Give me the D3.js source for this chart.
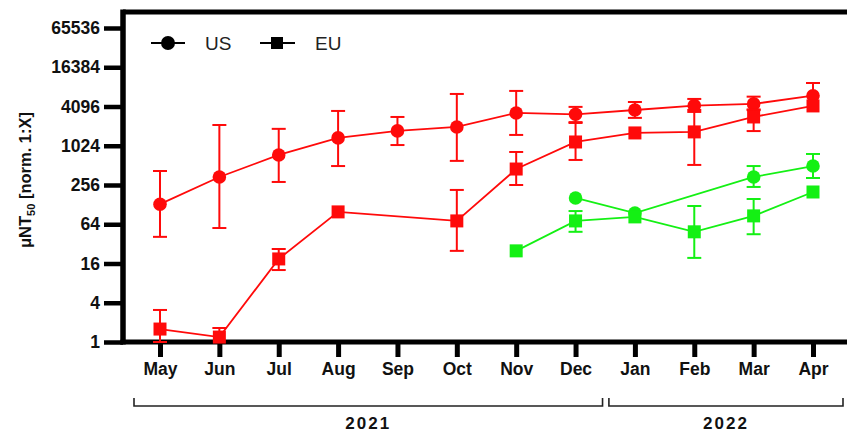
<!DOCTYPE html>
<html><head><meta charset="utf-8">
<script src="https://cdn.jsdelivr.net/npm/d3@7"></script>
<style>body{margin:0;background:#fff}svg{display:block}</style>
</head><body>
<svg id="c" width="847" height="434"></svg>
<script>
const months = ["May","Jun","Jul","Aug","Sep","Oct","Nov","Dec","Jan","Feb","Mar","Apr"];
const yTicks = [1,4,16,64,256,1024,4096,16384,65536];
const years = [{label:"2021", from:"May", to:"Dec"},{label:"2022", from:"Jan", to:"Apr"}];

// Red series
const redUS    = [130, 340, 740, 1350, 1730, 1990, 3260, 3110, 3620, 4220, 4490, 6000];
const redUSLo  = [41, 56, 285, 500, 1050, 600, 1500, 2360, 2740, 3380, 3600, null];
const redUSHi  = [420, 2130, 1860, 3500, 2830, 6380, 7100, 4040, 4800, 5350, 5800, 9400];
const redEU    = [1.58, 1.19, 18.8, 99, null, 72, 450, 1170, 1610, 1670, 2830, 4180];
const redEULo  = [1, null, 12.7, null, null, 25, 256, 620, null, 520, 1720, null];
const redEUHi  = [3.1, 1.64, 26.7, null, null, 215, 822, 2290, null, 3620, 3700, null];
// Green series
const greenUS   = [null, null, null, null, null, null, null, 162, 95, null, 340, 500];
const greenUSLo = [null, null, null, null, null, null, null, null, null, null, 239, 328];
const greenUSHi = [null, null, null, null, null, null, null, null, null, null, 500, 766];
const greenEU   = [null, null, null, null, null, null, 25, 72, 83, 49, 86, 200];
const greenEULo = [null, null, null, null, null, null, null, 49, null, 19.5, 45, null];
const greenEUHi = [null, null, null, null, null, null, null, 102, null, 122, 156, null];

const RED = "#ff0a0a", GREEN = "#14f014";
const series = [
  {v:redUS, lo:redUSLo, hi:redUSHi, color:RED, shape:"circle"},
  {v:redEU, lo:redEULo, hi:redEUHi, color:RED, shape:"square"},
  {v:greenUS, lo:greenUSLo, hi:greenUSHi, color:GREEN, shape:"circle"},
  {v:greenEU, lo:greenEULo, hi:greenEUHi, color:GREEN, shape:"square"}
];

const svg = d3.select("#c");
const font = "'Liberation Sans', Arial, sans-serif";
const x = d3.scalePoint().domain(months).range([160, 813]);
const y = d3.scaleLog().base(2).domain([1, 65536]).range([342, 28]);

const axisX0 = 123, axisY0 = 342, topY = 12;

// frame: top line
svg.append("line").attr("x1", axisX0).attr("x2", 847).attr("y1", topY).attr("y2", topY)
  .attr("stroke","#000").attr("stroke-width",5);

// Y axis
const yAxis = d3.axisLeft(y).tickValues(yTicks).tickFormat(d3.format("d")).tickSize(19).tickPadding(4);
const gy = svg.append("g").attr("transform", `translate(${axisX0},0)`).call(yAxis);
gy.select(".domain").remove();
gy.append("line").attr("x1",0).attr("x2",0).attr("y1", topY-2.5).attr("y2", axisY0+2.5)
  .attr("stroke","#000").attr("stroke-width",5.5);
gy.selectAll(".tick line").attr("stroke","#000").attr("stroke-width",4.5);
gy.selectAll(".tick text").attr("font-family",font).attr("font-weight","bold")
  .attr("font-size",17.5).attr("fill","#111");

// X axis
const xAxis = d3.axisBottom(x).tickSize(15).tickPadding(6);
const gx = svg.append("g").attr("transform", `translate(0,${axisY0})`).call(xAxis);
gx.select(".domain").remove();
gx.append("line").attr("x1", axisX0-2.5).attr("x2", 847).attr("y1",0).attr("y2",0)
  .attr("stroke","#000").attr("stroke-width",5);
gx.selectAll(".tick line").attr("stroke","#000").attr("stroke-width",5);
gx.selectAll(".tick text").attr("font-family",font).attr("font-weight","bold")
  .attr("font-size",17.5).attr("fill","#111");

// Y label
const yl = svg.append("text").attr("transform","translate(31,180) rotate(-90)")
  .attr("text-anchor","middle").attr("font-family",font).attr("font-weight","bold")
  .attr("font-size",16.5).attr("fill","#111");
yl.append("tspan").text("μNT");
yl.append("tspan").attr("font-size",11).attr("dy",4).text("50");
yl.append("tspan").attr("dy",-4).text(" [norm. 1:X]");

// Year brackets
const bracketY = 406;
years.forEach((yr, i) => {
  const x1 = x(yr.from) - 26;
  const x2 = i === 0 ? x(yr.to) + 27 : x(yr.to) + 30;
  svg.append("path").attr("d", `M${x1},${bracketY-8}V${bracketY}H${x2}V${bracketY-8}`)
    .attr("fill","none").attr("stroke","#222").attr("stroke-width",1.6);
  svg.append("text").attr("x",(x1+x2)/2).attr("y",429).attr("text-anchor","middle")
    .attr("font-family",font).attr("font-weight","bold").attr("font-size",17)
    .attr("letter-spacing",2).attr("fill","#111").text(yr.label);
});

// Series
const line = d3.line().defined(d => d.v != null).x(d => x(d.m)).y(d => y(d.v));
series.forEach(s => {
  const pts = months.map((m,i) => ({m, v:s.v[i], lo:s.lo[i], hi:s.hi[i]}));
  const valid = pts.filter(d => d.v != null);
  const g = svg.append("g");
  g.append("path").datum(valid).attr("d", line).attr("fill","none")
    .attr("stroke", s.color).attr("stroke-width",1.8);
  valid.forEach(d => {
    const cx = x(d.m);
    [d.hi, d.lo].forEach(e => {
      if (e == null) return;
      g.append("line").attr("x1",cx).attr("x2",cx).attr("y1",y(d.v)).attr("y2",y(e))
        .attr("stroke",s.color).attr("stroke-width",2);
      g.append("line").attr("x1",cx-7).attr("x2",cx+7).attr("y1",y(e)).attr("y2",y(e))
        .attr("stroke",s.color).attr("stroke-width",2);
    });
  });
  valid.forEach(d => {
    if (s.shape === "circle") {
      g.append("circle").attr("cx",x(d.m)).attr("cy",y(d.v)).attr("r",6.8).attr("fill",s.color);
    } else {
      g.append("rect").attr("x",x(d.m)-6.5).attr("y",y(d.v)-6.5).attr("width",13).attr("height",13)
        .attr("fill",s.color);
    }
  });
});

// Legend
const lg = svg.append("g").attr("font-family",font).attr("font-size",19).attr("fill","#222");
lg.append("line").attr("x1",151).attr("x2",185).attr("y1",43).attr("y2",43).attr("stroke","#000").attr("stroke-width",1.8);
lg.append("circle").attr("cx",168).attr("cy",43).attr("r",7).attr("fill","#000");
lg.append("text").attr("x",205).attr("y",50).text("US");
lg.append("line").attr("x1",260).attr("x2",295).attr("y1",43).attr("y2",43).attr("stroke","#000").attr("stroke-width",1.8);
lg.append("rect").attr("x",271).attr("y",37).attr("width",12).attr("height",12).attr("fill","#000");
lg.append("text").attr("x",315).attr("y",50).text("EU");
</script>
</body></html>
